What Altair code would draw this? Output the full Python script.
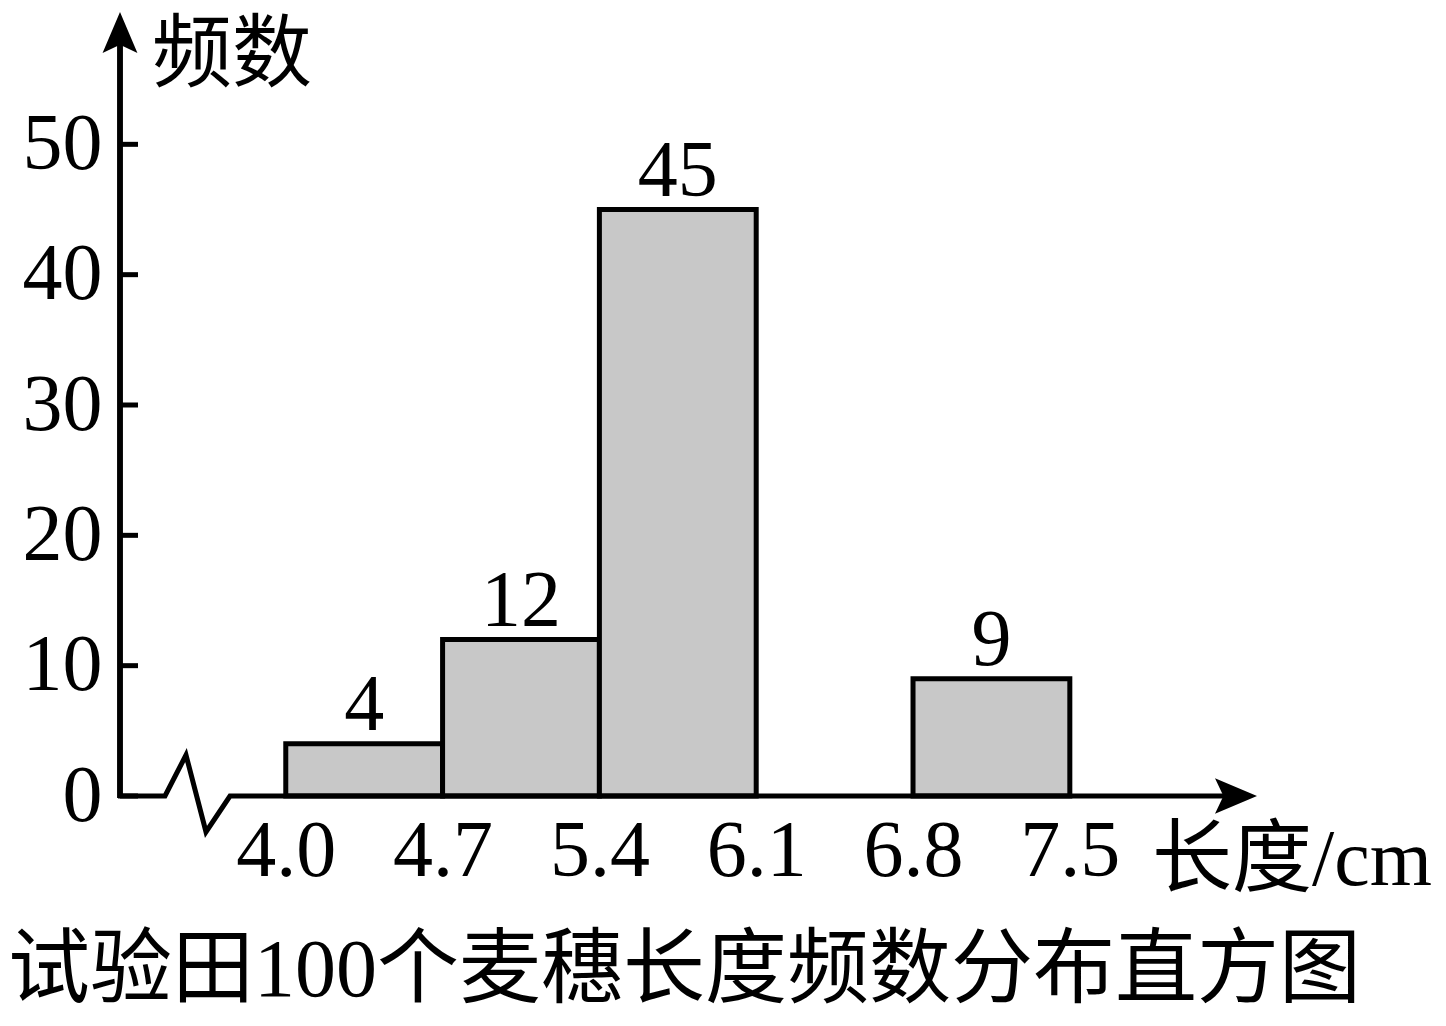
import altair as alt
import pandas as pd

# ---- data ----
BIN_START = [4.0, 4.7, 5.4, 6.8]
BIN_END = [4.7, 5.4, 6.1, 7.5]
COUNTS = [4, 12, 45, 9]
X_TICKS = [4.0, 4.7, 5.4, 6.1, 6.8, 7.5]
Y_TICKS = [0, 10, 20, 30, 40, 50]
Y_TITLE = "频数"
X_TITLE = "长度/cm"
TITLE = "试验田100个麦穗长度频数分布直方图"

# ---- layout ----
W, H = 1138, 782
X_DOMAIN = [3.26, 8.34]
Y_DOMAIN = [0, 60]
PAD = {"left": 112, "top": 6, "right": 180, "bottom": 218}
OX, OY = 8 + PAD["left"], 8 + PAD["top"]  # page position of plot origin

def px_x(p):
    return X_DOMAIN[0] + (p - OX) / W * (X_DOMAIN[1] - X_DOMAIN[0])

def px_y(p):
    return (OY + H - p) / H * (Y_DOMAIN[1] - Y_DOMAIN[0])

SERIF = "'Liberation Serif', 'Noto Sans CJK SC'"
FS = 80

bars = pd.DataFrame({"start": BIN_START, "end": BIN_END, "count": COUNTS})
bars["mid"] = (bars["start"] + bars["end"]) / 2

xs = alt.Scale(domain=X_DOMAIN, nice=False, zero=False)
ys = alt.Scale(domain=Y_DOMAIN, nice=False, zero=False)

x_axis = alt.Axis(values=X_TICKS, format=".1f", domain=False, ticks=False, tickSize=0,
                  grid=False, labelFontSize=FS, labelFont="Liberation Serif",
                  labelColor="black", labelBaseline="alphabetic", labelPadding=79,
                  labelOverlap=False, labelFlush=False, title=None)
y_axis = alt.Axis(values=Y_TICKS, domain=False, ticks=False, tickSize=0, grid=False,
                  labelFontSize=FS, labelFont="Liberation Serif", labelColor="black",
                  labelPadding=18, labelOverlap=False, labelFlush=False, title=None)

base = alt.Chart(bars)

rects = base.mark_rect(fill="#c8c8c8", stroke="black", strokeWidth=5).encode(
    x=alt.X("start:Q", scale=xs, axis=x_axis),
    x2="end:Q",
    y=alt.Y("count:Q", scale=ys, axis=y_axis),
    y2=alt.datum(0),
)

labels = base.mark_text(font="Liberation Serif", fontSize=FS, baseline="alphabetic",
                        align="center", dy=-14, color="black").encode(
    x=alt.X("mid:Q", scale=xs),
    y=alt.Y("count:Q", scale=ys),
    text="count:Q",
)

# x-axis line with break (page pixel points converted to data units)
axis_px = [(OX - 2, OY + H), (165, OY + H), (186, 755), (206, 832), (230, OY + H), (1240, OY + H)]
axis_df = pd.DataFrame({
    "x": [px_x(p[0]) for p in axis_px],
    "y": [px_y(p[1]) for p in axis_px],
    "o": list(range(len(axis_px))),
})
x_line = alt.Chart(axis_df).mark_line(color="black", strokeWidth=5, strokeJoin="miter").encode(
    x=alt.X("x:Q", scale=xs), y=alt.Y("y:Q", scale=ys), order="o:Q"
)

y_line = alt.Chart(bars).mark_rule(color="black", strokeWidth=5).encode(
    x=alt.value(0), y=alt.value(26), y2=alt.value(H + 2)
)

tick_df = pd.DataFrame({"v": Y_TICKS})
y_ticks = alt.Chart(tick_df).mark_rule(color="black", strokeWidth=5).encode(
    y=alt.Y("v:Q", scale=ys), x=alt.value(0), x2=alt.value(18)
)

one = pd.DataFrame({"k": [0]})
up_arrow = alt.Chart(one).mark_point(
    shape="M0,-1L0.85,1L0,0.6L-0.85,1Z", size=1681, filled=True, color="black", opacity=1
).encode(x=alt.value(0), y=alt.value(18.5))
right_arrow = alt.Chart(one).mark_point(
    shape="M1,0L-1,-0.85L-0.6,0L-1,0.85Z", size=1764, filled=True, color="black", opacity=1
).encode(x=alt.value(1236 - OX), y=alt.value(H))

def text_layer(txt, x, y, size, font):
    return alt.Chart(pd.DataFrame({"t": [txt]})).mark_text(
        font=font, fontSize=size, align="left", baseline="alphabetic", color="black"
    ).encode(x=alt.value(x), y=alt.value(y), text="t:N")

ytitle = text_layer(Y_TITLE, 152 - OX, 80 - OY, FS, SERIF)
xtitle = text_layer(X_TITLE, 1152 - OX, 885 - OY, FS, SERIF)
title = text_layer(TITLE, 8 - OX, 996 - OY, 82, SERIF)

chart = alt.layer(
    rects, x_line, y_line, y_ticks, up_arrow, right_arrow, labels, ytitle, xtitle, title
).properties(
    width=W, height=H,
    autosize=alt.AutoSizeParams(type="none"),
    padding=PAD,
    background="white",
).configure_view(strokeWidth=0)

chart.save("out.html", embed_options={"renderer": "svg", "actions": False})
